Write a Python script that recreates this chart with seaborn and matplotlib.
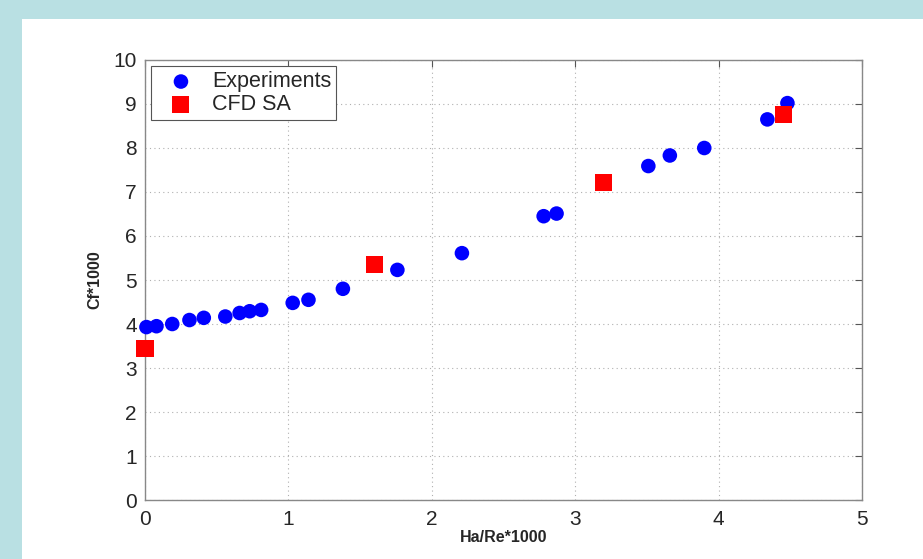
import matplotlib
matplotlib.use("Agg")
import matplotlib.pyplot as plt
from matplotlib.patches import Rectangle
import seaborn as sns
import pandas as pd

# Measured skin-friction coefficient vs. magnetic interaction
exp_x = [0.01, 0.08, 0.19, 0.31, 0.41, 0.56, 0.66, 0.73, 0.81, 1.03, 1.14,
         1.38, 1.76, 2.21, 2.78, 2.87, 3.51, 3.66, 3.90, 4.34, 4.48]
exp_y = [3.93, 3.95, 4.00, 4.09, 4.14, 4.17, 4.25, 4.29, 4.32, 4.48, 4.55,
         4.80, 5.23, 5.61, 6.45, 6.51, 7.59, 7.83, 8.00, 8.65, 9.02]

# Spalart-Allmaras CFD predictions
cfd_x = [0.00, 1.60, 3.20, 4.45]
cfd_y = [3.45, 5.35, 7.22, 8.77]

xticks = [0, 1, 2, 3, 4, 5]
yticks = [0, 1, 2, 3, 4, 5, 6, 7, 8, 9, 10]

exp_df = pd.DataFrame({"x": exp_x, "y": exp_y})
cfd_df = pd.DataFrame({"x": cfd_x, "y": cfd_y})

sns.set_style("white")
plt.rcParams["font.family"] = ["Liberation Sans", "DejaVu Sans"]

fig = plt.figure(figsize=(9.23, 5.59), dpi=100, facecolor="white")
band = "#b9e0e3"
fig.patches.append(Rectangle((0, 1 - 19 / 559), 1, 19 / 559, transform=fig.transFigure,
                             facecolor=band, edgecolor="none", zorder=0))
fig.patches.append(Rectangle((0, 0), 22 / 923, 1, transform=fig.transFigure,
                             facecolor=band, edgecolor="none", zorder=0))

ax = fig.add_axes([145 / 923, 59 / 559, 717 / 923, 440 / 559])

sns.scatterplot(data=exp_df, x="x", y="y", ax=ax, color="#0000ff", marker="o",
                s=110, edgecolor="none", label="Experiments", zorder=3, clip_on=False)
sns.scatterplot(data=cfd_df, x="x", y="y", ax=ax, color="#ff0000", marker="s",
                s=150, edgecolor="none", label="CFD SA", zorder=4, clip_on=False)

ax.set_xlim(0, 5)
ax.set_ylim(0, 10)
ax.set_xticks(xticks)
ax.set_yticks(yticks)
ax.set_xticklabels([str(t) for t in xticks], fontsize=15)
ax.set_yticklabels([str(t) for t in yticks], fontsize=15)
ax.tick_params(direction="in", length=5, width=0.8, color="#555555",
               top=True, right=True)
ax.tick_params(axis="x", pad=7)
ax.tick_params(axis="y", pad=6)
for sp in ax.spines.values():
    sp.set_color("#888888")
    sp.set_linewidth(1.0)
ax.grid(True, linestyle=(0, (1, 3)), color="#b0b0b0", linewidth=0.8)

ax.set_xlabel("Ha/Re*1000", fontsize=11.5, fontweight="bold", labelpad=1)
ax.set_ylabel("Cf*1000", fontsize=11.5, fontweight="bold", labelpad=8)

leg = ax.legend(loc="upper left", fontsize=15.5, frameon=True, fancybox=False,
                borderaxespad=0.3, handletextpad=0.3, labelspacing=0.08,
                borderpad=0.22, handlelength=2.3)
leg.get_frame().set_edgecolor("#555555")
leg.get_frame().set_linewidth(0.8)
leg.get_frame().set_alpha(1)

fig.savefig("out.png", dpi=100, facecolor=fig.get_facecolor())
